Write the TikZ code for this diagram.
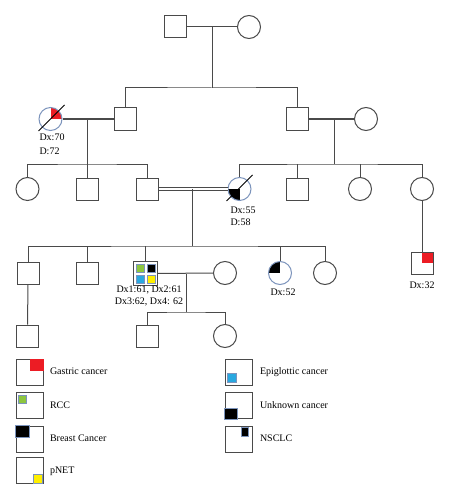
\documentclass[tikz,border=0pt]{standalone}
\usepackage{fontspec}
\setmainfont{Liberation Serif}
\usepackage{xcolor}
\usetikzlibrary{positioning}

\definecolor{edge}{HTML}{4A4A4A}
\definecolor{outline}{HTML}{7C94BC}
\definecolor{gastric}{HTML}{EC1C24}
\definecolor{rcc}{HTML}{8DC63F}
\definecolor{epig}{HTML}{29A8E0}
\definecolor{pnet}{HTML}{FFEF00}

\begin{document}
\begin{tikzpicture}[x=1pt,y=-1pt,line width=1pt,color=edge,
    male/.style={draw,rectangle,minimum size=22pt,inner sep=0pt},
    female/.style={draw,circle,minimum size=23pt,inner sep=0pt},
    affected/.style={draw=outline},
    quad/.style 2 args={path picture={\fill[#1] (path picture bounding box.center) rectangle (path picture bounding box.#2);}},
    lbox/.style={draw,rectangle,minimum width=27pt,minimum height=26pt,inner sep=0pt},
    dx/.style={text=black,inner sep=0pt,font=\fontsize{10}{12}\selectfont,text height=7pt,text depth=2pt}]
    \useasboundingbox (0,0) rectangle (450,500);

    % generation I
    \node[male] (gf) at (175,27) {};
    \node[female] (gm) at (249,27) {};

    % generation II
    \node[female,affected,quad={gastric}{north east}] (d1) at (50.5,119) {};
    \node[male] (u1) at (125.5,119) {};
    \node[male] (u2) at (297,119) {};
    \node[female] (a1) at (366,119) {};

    % generation III
    \node[female] (c1) at (27.5,189) {};
    \node[male] (c2) at (87,189) {};
    \node[male] (c3) at (147,189) {};
    \node[female,affected,quad={black}{south west}] (d2) at (239.5,189) {};
    \node[male] (c5) at (297.5,189) {};
    \node[female] (c6) at (360,189) {};
    \node[female] (c7) at (422,189) {};
    \node[male,quad={gastric}{north east}] (g1) at (422,263) {};

    % generation IV
    \node[male] (e1) at (28,273) {};
    \node[male] (e2) at (87,273) {};
    \node[male,minimum size=24pt] (pr) at (145.5,273.5) {};
    \node[female] (w) at (225,273) {};
    \node[female,affected,quad={black}{north west}] (e4) at (280,273) {};
    \node[female] (e5) at (325,273) {};

    % generation V
    \node[male] (f1) at (27.5,336) {};
    \node[male] (f2) at (147.5,336) {};
    \node[female] (f3) at (225,336) {};

    \coordinate (s1) at (212,88);
    \coordinate (s2) at (87,164);
    \coordinate (s3) at (334,164);
    \coordinate (s4) at (192,246);
    \coordinate (s5) at (186,312);

    \draw (gf) -- (gm);
    \draw (s1 |- gf) -- (s1);
    \draw (u1.north) |- (s1) -| (u2.north);

    \draw (d1) -- (u1);
    \draw (s2 |- u1) -- (s2);
    \draw (c1.north) |- (s2) -| (c3.north);
    \draw (c2) -- (c2 |- s2);

    \draw (u2) -- (a1);
    \draw (s3 |- u2) -- (s3);
    \draw (d2.north) |- (s3) -| (c7.north);
    \draw (c5) -- (c5 |- s3);
    \draw (c6) -- (c6 |- s3);
    \draw (c7) -- (g1);

    \draw[double=white,double distance=1.6pt,line width=.8pt] (c3) -- (d2);
    \draw (s4 |- c3) -- (s4);
    \draw (e1.north) |- (s4) -| (e5.north);
    \draw (e2) -- (e2 |- s4);
    \draw (pr) -- (pr |- s4);
    \draw (e4) -- (e4 |- s4);

    \draw (e1) -- (f1);
    \draw (pr) -- (w);
    \draw (s5 |- pr) -- (s5);
    \draw (f2.north) |- (s5) -| (f3.north);

    % deceased
    \draw[black,line width=.8pt] (d1.center) ++(-12,12) -- ++(26,-26);
    \draw[black,line width=.8pt] (d2.center) ++(-13,12) -- ++(26,-26);

    % proband, four cancers
    \filldraw[fill=rcc,draw=outline,line width=.5pt] ([shift={(-9.5,-9.5)}]pr.center) rectangle ++(8,8);
    \filldraw[fill=black,draw=outline,line width=.5pt] ([shift={(1.5,-9.5)}]pr.center) rectangle ++(8,8);
    \filldraw[fill=epig,draw=outline,line width=.5pt] ([shift={(-9.5,1.5)}]pr.center) rectangle ++(8,8);
    \filldraw[fill=pnet,draw=outline,line width=.5pt] ([shift={(1.5,1.5)}]pr.center) rectangle ++(8,8);

    \node[dx,anchor=west] (t1) at (39,138) {Dx:70};
    \node[dx,anchor=west] (t2) at (39,152) {D:72};
    \node[dx,anchor=west] (t3) at (230,211) {Dx:55};
    \node[dx,anchor=west] (t4) at (230,222.5) {D:58};
    \node[dx] (t5) at (149,290) {Dx1:61, Dx2:61};
    \node[dx] (t6) at (149,301.5) {Dx3:62, Dx4: 62};
    \node[dx] (t7) at (283,293) {Dx:52};
    \node[dx] (t8) at (422,286) {Dx:32};

    % legend
    \node[lbox] (lg1) at (29.5,372) {};
    \node[lbox] (lg2) at (29.5,405.5) {};
    \node[lbox] (lg3) at (29.5,439) {};
    \node[lbox] (lg4) at (29.5,470.5) {};
    \node[lbox] (lr1) at (238.5,372) {};
    \node[lbox] (lr2) at (238.5,405.5) {};
    \node[lbox] (lr3) at (238.5,439) {};

    \fill[gastric] (lg1.north east) rectangle ++(-14,12);
    \filldraw[fill=rcc,draw=outline,line width=.5pt] ([shift={(3,3)}]lg2.north west) rectangle ++(8,8);
    \filldraw[fill=black,draw=outline,line width=.5pt] (lg3.north west) rectangle ++(14,12);
    \filldraw[fill=pnet,draw=outline,line width=.5pt] ([shift={(-1,-1)}]lg4.south east) rectangle ++(-9,-9);
    \filldraw[fill=epig,draw=outline,line width=.5pt] ([shift={(3,-3)}]lr1.south west) rectangle ++(9,-9);
    \filldraw[fill=black,draw=outline,line width=.5pt] (lr2.south west) rectangle ++(13,-11);
    \filldraw[fill=black,draw=outline,line width=.5pt] ([shift={(-4,2)}]lr3.north east) rectangle ++(-7,9);

    \node[dx,right=6pt of lg1] (n1) {Gastric cancer};
    \node[dx,right=6pt of lg2] (n2) {RCC};
    \node[dx,right=6pt of lg3] (n3) {Breast Cancer};
    \node[dx,right=6pt of lg4] (n4) {pNET};
    \node[dx,right=7pt of lr1] (n5) {Epiglottic cancer};
    \node[dx,right=7pt of lr2] (n6) {Unknown cancer};
    \node[dx,right=7pt of lr3] (n7) {NSCLC};

\end{tikzpicture}
\end{document}
